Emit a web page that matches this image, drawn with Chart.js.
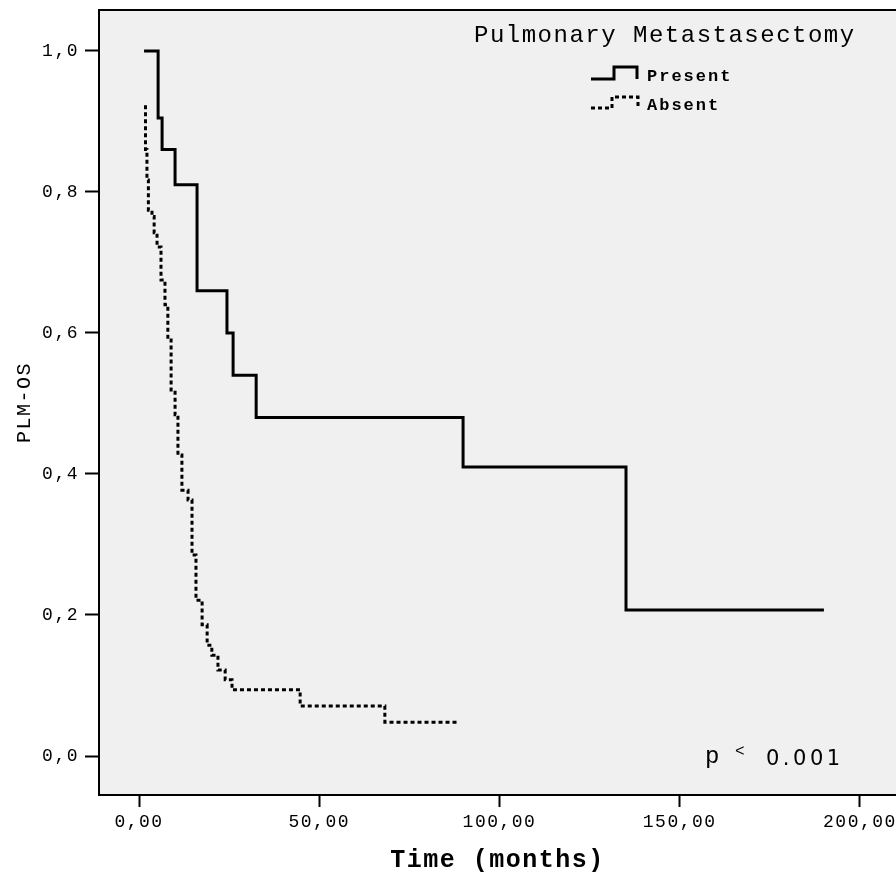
<!DOCTYPE html>
<html>
<head>
<meta charset="utf-8">
<script src="https://cdn.jsdelivr.net/npm/chart.js@4.4.1/dist/chart.umd.min.js"></script>
<style>
  html, body { margin: 0; padding: 0; background: #fff; }
  canvas { display: block; }
</style>
</head>
<body>
<canvas id="kmChart" width="896" height="874"></canvas>
<script>
// Kaplan-Meier curves, PLM-OS by pulmonary metastasectomy
var groups = ["Present", "Absent"];

// Present (solid line)
var presentTime = [1.4, 5.3, 6.4, 10.0, 16.1, 24.4, 26.1, 32.5, 89.9, 135.1, 190.0];
var presentSurv = [1.0, 0.905, 0.86, 0.81, 0.66, 0.60, 0.54, 0.48, 0.41, 0.207, 0.207];

// Absent (dotted line)
var absentTime = [1.8, 1.8, 2.2, 2.6, 3.6, 4.2, 5.0, 6.1, 7.2, 8.0, 8.9, 10.0, 10.8, 11.9,
                  13.6, 14.7, 15.8, 17.5, 18.9, 20.2, 21.9, 23.9, 25.8, 44.7, 68.2, 88.2];
var absentSurv = [0.923, 0.86, 0.817, 0.774, 0.765, 0.742, 0.722, 0.675, 0.64, 0.59, 0.519, 0.484, 0.427, 0.377,
                  0.363, 0.285, 0.221, 0.186, 0.157, 0.143, 0.122, 0.108, 0.094, 0.071, 0.048, 0.048];

var xTicks = [0, 50, 100, 150, 200];
var xTickLabels = ["0,00", "50,00", "100,00", "150,00", "200,00"];
var yTicks = [0, 0.2, 0.4, 0.6, 0.8, 1.0];
var yTickLabels = ["0,0", "0,2", "0,4", "0,6", "0,8", "1,0"];

function toPoints(t, s) {
    return t.map(function (v, i) { return { x: v, y: s[i] }; });
}

var mono = '"Liberation Mono", "Courier New", monospace';

// background, frame, legend and p-value
var frame = {
    id: 'frame',
    beforeDraw: function (chart) {
        var ctx = chart.ctx, a = chart.chartArea;
        ctx.save();
        ctx.fillStyle = '#f0f0f0';
        ctx.fillRect(a.left, a.top, a.right - a.left, a.bottom - a.top);
        ctx.restore();
        ctx.letterSpacing = '1.5px';
    },
    afterDraw: function (chart) {
        var ctx = chart.ctx, a = chart.chartArea;
        ctx.save();
        ctx.strokeStyle = '#000';
        ctx.lineWidth = 2;
        ctx.beginPath();
        ctx.moveTo(a.right + 2, a.top);
        ctx.lineTo(a.left, a.top);
        ctx.lineTo(a.left, a.bottom);
        ctx.lineTo(a.right + 2, a.bottom);
        ctx.stroke();

        ctx.fillStyle = '#000';
        ctx.textBaseline = 'alphabetic';
        ctx.textAlign = 'left';
        ctx.font = '24px ' + mono;
        ctx.letterSpacing = '1.5px';
        ctx.fillText('Pulmonary Metastasectomy', 474, 42);

        // legend samples
        ctx.lineWidth = 3;
        ctx.beginPath();
        ctx.moveTo(591, 79); ctx.lineTo(614, 79); ctx.lineTo(614, 67);
        ctx.lineTo(637, 67); ctx.lineTo(637, 79);
        ctx.stroke();
        ctx.setLineDash([4, 3]);
        ctx.beginPath();
        ctx.moveTo(591, 108); ctx.lineTo(612, 108); ctx.lineTo(612, 97);
        ctx.lineTo(638, 97); ctx.lineTo(638, 108);
        ctx.stroke();
        ctx.setLineDash([]);

        ctx.font = 'bold 17px ' + mono;
        ctx.letterSpacing = '2px';
        ctx.fillText(groups[0], 647, 81);
        ctx.fillText(groups[1], 647, 110);

        // p-value
        ctx.letterSpacing = '0px';
        ctx.font = '24px ' + mono;
        ctx.fillText('p', 705, 763);
        ctx.font = '16px ' + mono;
        ctx.fillText('<', 735, 756);
        ctx.font = '21px "DejaVu Sans", sans-serif';
        ctx.letterSpacing = '3.5px';
        ctx.fillText('0.001', 766, 765);
        ctx.restore();
    }
};

var ctx = document.getElementById("kmChart");
var kmChart = new Chart(ctx, {
    type: 'line',
    data: {
        datasets: [{
            label: groups[0],
            data: toPoints(presentTime, presentSurv),
            borderColor: '#000',
            borderWidth: 3,
            stepped: 'before',
            pointRadius: 0,
            fill: false
        }, {
            label: groups[1],
            data: toPoints(absentTime, absentSurv),
            borderColor: '#000',
            borderWidth: 3,
            borderDash: [4, 3],
            stepped: 'before',
            pointRadius: 0,
            fill: false
        }]
    },
    options: {
        responsive: false,
        animation: false,
        devicePixelRatio: 1,
        layout: { padding: { top: 10, left: 0, right: 0, bottom: 0 } },
        plugins: { legend: { display: false }, tooltip: { enabled: false } },
        scales: {
            x: {
                type: 'linear',
                min: -11.1,
                max: 210,
                afterBuildTicks: function (s) { s.ticks = xTicks.map(function (v) { return { value: v }; }); },
                afterFit: function (s) { s.height = 79; s.paddingLeft = 0; s.paddingRight = 0; },
                grid: { drawOnChartArea: false, drawTicks: true, tickLength: 12, tickWidth: 2, tickColor: '#000', color: '#000' },
                border: { display: false },
                ticks: {
                    autoSkip: false, maxRotation: 0, padding: 4, color: '#000',
                    font: { family: mono, size: 18 },
                    callback: function (v, i) { return xTickLabels[i]; }
                },
                title: {
                    display: true, text: 'Time (months)', color: '#000',
                    font: { family: mono, size: 25, weight: 'bold', lineHeight: 1.1 },
                    padding: { top: 0, bottom: 0 }
                }
            },
            y: {
                min: -0.0553,
                max: 1.058,
                afterBuildTicks: function (s) { s.ticks = yTicks.map(function (v) { return { value: v }; }); },
                afterFit: function (s) { s.width = 99; s.paddingTop = 0; s.paddingBottom = 0; },
                grid: { drawOnChartArea: false, drawTicks: true, tickLength: 14, tickWidth: 2, tickColor: '#000', color: '#000' },
                border: { display: false },
                ticks: {
                    autoSkip: false, padding: 6, color: '#000',
                    font: { family: mono, size: 18 },
                    callback: function (v, i) { return yTickLabels[i]; }
                },
                title: {
                    display: true, text: 'PLM-OS', color: '#000',
                    font: { family: mono, size: 20 },
                    padding: { top: 13, bottom: 0 }
                }
            }
        }
    },
    plugins: [frame]
});
</script>
</body>
</html>
